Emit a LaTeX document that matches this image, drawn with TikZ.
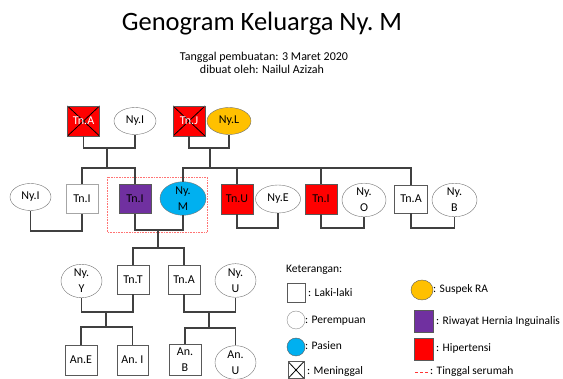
\documentclass[tikz,border=0pt]{standalone}
\usepackage{fontspec}
\setmainfont{Carlito}
\usetikzlibrary{shapes.geometric}

\definecolor{hiperred}{HTML}{FF0000}
\definecolor{herniapurple}{HTML}{7030A0}
\definecolor{pasienblue}{HTML}{00B0F0}
\definecolor{suspekorange}{HTML}{FFC000}

\begin{document}
\begin{tikzpicture}[x=1pt, y=-1pt,
    link/.style={draw=black!75, line width=1.4pt},
    male/.style={draw=black!65, fill=white, minimum width=32pt, minimum height=29pt,
        inner sep=0pt, align=center, font=\fontsize{12}{14}\selectfont},
    female/.style={ellipse, draw=black!55, fill=white, minimum width=42pt, minimum height=27pt,
        inner sep=0pt, align=center, font=\fontsize{12}{14}\selectfont},
    twoline/.style={font=\fontsize{12}{16}\selectfont},
    dead/.style={path picture={\draw[black, line width=0.8pt]
        (path picture bounding box.north west) -- (path picture bounding box.south east)
        (path picture bounding box.north east) -- (path picture bounding box.south west);}},
    legtext/.style={anchor=base west, inner sep=0pt, font=\fontsize{11.5}{13}\selectfont}]
    \useasboundingbox (0,0) rectangle (563,379);

    % === Title ===
    \node[anchor=base, font=\fontsize{26.5}{28}\selectfont] (title) at (262,31) {Genogram Keluarga Ny.\ M};
    \node[anchor=base, font=\fontsize{12}{14}\selectfont] (tanggal) at (264,61) {Tanggal pembuatan: 3 Maret 2020};
    \node[anchor=base, font=\fontsize{12}{14}\selectfont] (pembuat) at (262,74) {dibuat oleh: Nailul Azizah};

    % === Generation 1 (grandparents) ===
    \node[male, dead, fill=hiperred, text=white, minimum height=30pt] (tnA) at (83.5,121) {Tn.A};
    \node[female] (nyI) at (135,121) {Ny.I};
    \node[male, dead, fill=hiperred, text=white, minimum height=30pt] (tnJ) at (189,121) {Tn.J};
    \node[female, fill=suspekorange, minimum width=44pt] (nyL) at (229,121) {Ny.L};

    % === Generation 2 ===
    \node[female, minimum width=41pt] (nyIa) at (30.5,197) {Ny.I};
    \node[male, draw=black!35] (tnIa) at (82,199) {Tn.I};
    \node[male, fill=herniapurple] (tnIb) at (135,199) {Tn.I};
    \node[female, twoline, fill=pasienblue, minimum width=46pt, minimum height=31pt] (nyM) at (183,198.5) {Ny.\\M};
    \node[male, fill=hiperred, minimum height=30pt] (tnU) at (237,199) {Tn.U};
    \node[female, minimum width=45pt, minimum height=28pt] (nyE) at (278,199) {Ny.E};
    \node[male, fill=hiperred, minimum height=30pt] (tnIc) at (321,199) {Tn.I};
    \node[female, twoline, minimum width=44pt, minimum height=30pt] (nyO) at (364,200) {Ny.\\O};
    \node[male, minimum width=33pt, minimum height=28pt] (tnAb) at (411,199) {Tn.A};
    \node[female, twoline, minimum width=45pt, minimum height=30pt] (nyB) at (454.5,200) {Ny.\\B};

    % living together (patient's household)
    \draw[hiperred!55, densely dotted, line width=0.6pt] (107,177) rectangle (207,232);

    % === Generation 3 ===
    \node[female, twoline, minimum width=41pt, minimum height=29pt] (nyY) at (81.5,281) {Ny.\\Y};
    \node[male] (tnT) at (133,279.5) {Tn.T};
    \node[male] (tnAc) at (184,279.5) {Tn.A};
    \node[female, twoline, minimum width=41pt, minimum height=31pt] (nyU) at (235.5,280.5) {Ny.\\U};

    % === Generation 4 ===
    \node[male, minimum height=30pt] (anE) at (81,360) {An.E};
    \node[male, minimum width=31pt, minimum height=30pt] (anI) at (132.5,360) {An.\ I};
    \node[male, twoline, minimum height=31pt] (anB) at (185,359.5) {An.\\B};
    \node[female, twoline, minimum width=41pt, minimum height=29pt] (anU) at (235.5,362.5) {An.\\U};

    % === Connectors ===
    \coordinate (kA) at (107,148);
    \coordinate (sA) at (107,168);
    \draw[link] (tnA.south) |- (kA) -| (nyI.south);
    \draw[link] (kA) -- (sA);
    \draw[link] (tnIa.north) |- (sA) -| (tnIb.north);

    \coordinate (kJ) at (210,148);
    \coordinate (sJ) at (210,168);
    \draw[link] (tnJ.south) |- (kJ) -| (nyL.south);
    \draw[link] (kJ) -- (sJ);
    \draw[link] (nyM.north) |- (sJ) -| (tnU.north);
    \draw[link] (sJ) -| (tnIc.north);
    \draw[link] (sJ) -| (tnAb.north);

    \coordinate (kI) at (56,231);
    \draw[link] (nyIa.south) |- (kI) -| (tnIa.south);

    \coordinate (kM) at (158,230);
    \coordinate (sM) at (158,248);
    \draw[link] (tnIb.south) |- (kM) -| (nyM.south);
    \draw[link] (kM) -- (sM);
    \draw[link] (tnT.north) |- (sM) -| (tnAc.north);

    \coordinate (kU) at (258,228);
    \draw[link] (tnU.south) |- (kU) -| (nyE.south);
    \coordinate (kO) at (343,228);
    \draw[link] (tnIc.south) |- (kO) -| (nyO.south);
    \coordinate (kB) at (432,228);
    \draw[link] (tnAb.south) |- (kB) -| (nyB.south);

    \coordinate (kT) at (106,312);
    \coordinate (sT) at (106,327);
    \draw[link] (nyY.south) |- (kT) -| (tnT.south);
    \draw[link] (kT) -- (sT);
    \draw[link] (anE.north) |- (sT) -| (anI.north);

    \coordinate (kC) at (209,312);
    \coordinate (sC) at (209,328);
    \draw[link] (tnAc.south) |- (kC) -| (nyU.south);
    \draw[link] (kC) -- (sC);
    \draw[link] (anB.north) |- (sC) -| (anU.north);

    % === Legend ===
    \node[legtext] (keterangan) at (286,273) {Keterangan:};
    \node[draw=black!65, minimum width=18pt, minimum height=19pt, inner sep=0pt] (lgMale) at (296,292.5) {};
    \node[legtext] at (308,297) {: Laki-laki};
    \node[circle, draw=black!45, minimum size=18pt, inner sep=0pt] (lgFemale) at (296,320) {};
    \node[legtext] at (305,324) {: Perempuan};
    \node[circle, draw=black!65, fill=pasienblue, minimum size=18pt, inner sep=0pt] (lgPasien) at (296,347) {};
    \node[legtext] at (305,350) {: Pasien};
    \node[draw=black!65, dead, minimum width=16pt, minimum height=17pt, inner sep=0pt] (lgDead) at (296,370) {};
    \node[legtext] at (307,375) {: Meninggal};

    \node[ellipse, draw=black!65, fill=suspekorange, minimum width=22pt, minimum height=20pt, inner sep=0pt] (lgSuspek) at (422,290) {};
    \node[legtext] at (433,293) {: Suspek RA};
    \node[draw=black!65, fill=herniapurple, minimum width=19pt, minimum height=22pt, inner sep=0pt] (lgHernia) at (423.5,321) {};
    \node[legtext] at (436,325) {: Riwayat Hernia Inguinalis};
    \node[draw=black!65, fill=hiperred, minimum width=19pt, minimum height=22pt, inner sep=0pt] (lgHiper) at (423.5,349) {};
    \node[legtext] at (436,352) {: Hipertensi};
    \coordinate (lgDashA) at (415,372);
    \coordinate (lgDashB) at (430,372);
    \draw[hiperred!80, densely dashed, line width=0.7pt] (lgDashA) -- (lgDashB);
    \node[legtext] at (430,375) {: Tinggal serumah};
\end{tikzpicture}
\end{document}
